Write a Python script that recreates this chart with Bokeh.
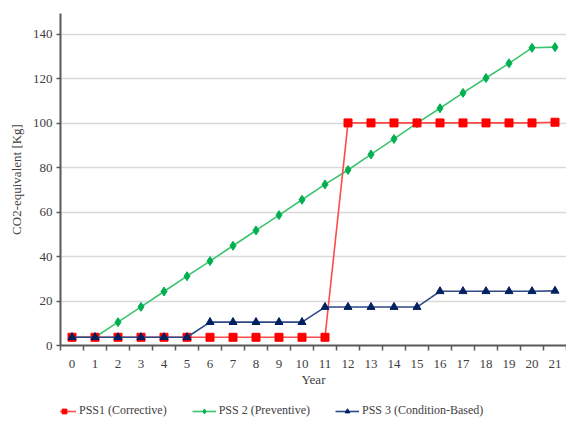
from bokeh.plotting import figure
from bokeh.layouts import column
from bokeh.models import Range1d, FixedTicker, Legend, LegendItem
from bokeh.embed import file_html
from bokeh.resources import INLINE

years = list(range(0, 22))
pss1 = [3.7] * 12 + [100.2, 100.2, 100.2, 100.2, 100.2, 100.2, 100.2, 100.2, 100.2, 100.5]
pss2 = [3.7, 3.7, 10.5, 17.4, 24.3, 31.2, 38.0, 44.9, 51.8, 58.7, 65.6, 72.5,
        79.0, 86.0, 93.0, 100.1, 106.8, 113.7, 120.4, 127.0, 134.0, 134.3]
pss3 = [3.7, 3.7, 3.7, 3.7, 3.7, 3.7, 10.5, 10.5, 10.5, 10.5, 10.5, 17.3,
        17.3, 17.3, 17.3, 17.3, 24.4, 24.4, 24.4, 24.4, 24.4, 24.6]
names = ["PSS1 (Corrective)", "PSS 2 (Preventive)", "PSS 3 (Condition-Based)"]
y_ticks = [0, 20, 40, 60, 80, 100, 120, 140]

FONT = "Liberation Serif"
TXT = "#404040"
AX = "#595959"

STYLES = [
    dict(line="#FF4A4A", marker="square", size=8, fill="#FF0000"),
    dict(line="#3CC46E", marker="diamond", size=9, fill="#00B050"),
    dict(line="#2E4A86", marker="triangle", size=8, fill="#002060"),
]
SERIES = [pss1, pss2, pss3]

p = figure(width=566, height=392, output_backend="svg", toolbar_location=None,
           x_range=Range1d(-0.5, 21.5), y_range=Range1d(0, 149.45),
           min_border_left=60, min_border_right=0, min_border_top=13, min_border_bottom=47)
p.outline_line_color = None

# axes
p.xaxis.ticker = FixedTicker(ticks=years, minor_ticks=[y - 0.5 for y in years] + [21.5])
p.xaxis.major_tick_line_color = None
p.xaxis.minor_tick_line_color = AX
p.xaxis.minor_tick_out = 5
p.xaxis.minor_tick_in = 0
p.xaxis.minor_tick_line_width = 1.5
p.xaxis.axis_line_color = AX
p.xaxis.axis_line_width = 2
p.xaxis.major_label_text_font = FONT
p.xaxis.major_label_text_font_size = "13px"
p.xaxis.major_label_text_color = TXT
p.xaxis.major_label_standoff = 8
p.xaxis.axis_label = "Year"
p.xaxis.axis_label_text_font = FONT
p.xaxis.axis_label_text_font_size = "13px"
p.xaxis.axis_label_text_font_style = "normal"
p.xaxis.axis_label_text_color = TXT
p.xaxis.axis_label_standoff = 1

p.yaxis.ticker = FixedTicker(ticks=y_ticks, minor_ticks=[])
p.yaxis.major_tick_line_color = AX
p.yaxis.major_tick_out = 4
p.yaxis.major_tick_in = 0
p.yaxis.major_tick_line_width = 1.5
p.yaxis.axis_line_color = AX
p.yaxis.axis_line_width = 2
p.yaxis.major_label_text_font = FONT
p.yaxis.major_label_text_font_size = "13px"
p.yaxis.major_label_text_color = TXT
p.yaxis.major_label_standoff = 4
p.yaxis.axis_label = "CO2-equivalent [Kg]"
p.yaxis.axis_label_text_font = FONT
p.yaxis.axis_label_text_font_size = "13px"
p.yaxis.axis_label_text_font_style = "normal"
p.yaxis.axis_label_text_color = TXT
p.yaxis.axis_label_standoff = 6

p.xgrid.grid_line_color = None
p.ygrid.ticker = FixedTicker(ticks=y_ticks[1:])
p.ygrid.grid_line_color = "#d9d9d9"
p.ygrid.grid_line_width = 1.5

# series drawn green first, then red, navy on top
for idx in (1, 0, 2):
    s = STYLES[idx]
    p.line(years, SERIES[idx], line_color=s["line"], line_width=1.6)
    p.scatter(years, SERIES[idx], marker=s["marker"], size=s["size"],
              fill_color=s["fill"], line_color=s["fill"])

# legend strip (separate figure; its proxy series lie outside its visible range)
lg = figure(width=566, height=34, output_backend="svg", toolbar_location=None,
            x_range=Range1d(1000, 1001), y_range=Range1d(1000, 1001),
            min_border_left=0, min_border_right=0, min_border_top=0, min_border_bottom=0)
lg.axis.visible = False
lg.grid.visible = False
lg.outline_line_color = None
items = []
for idx in range(3):
    s = STYLES[idx]
    r1 = lg.line(years, SERIES[idx], line_color=s["line"], line_width=1.6)
    r2 = lg.scatter(years, SERIES[idx], marker=s["marker"], size=s["size"] - 1,
                    fill_color=s["fill"], line_color=s["fill"])
    items.append(LegendItem(label=names[idx], renderers=[r1, r2]))

legend = Legend(items=items, orientation="horizontal", location=(-8, 8),
                label_text_font=FONT, label_text_font_size="12px", label_text_color=TXT,
                glyph_width=24, glyph_height=12, spacing=25, label_standoff=3,
                border_line_color=None, background_fill_alpha=0, padding=0, margin=0)
lg.add_layout(legend, "center")

layout = column(p, lg, spacing=0)
open("out.html", "w").write(file_html(layout, INLINE))
